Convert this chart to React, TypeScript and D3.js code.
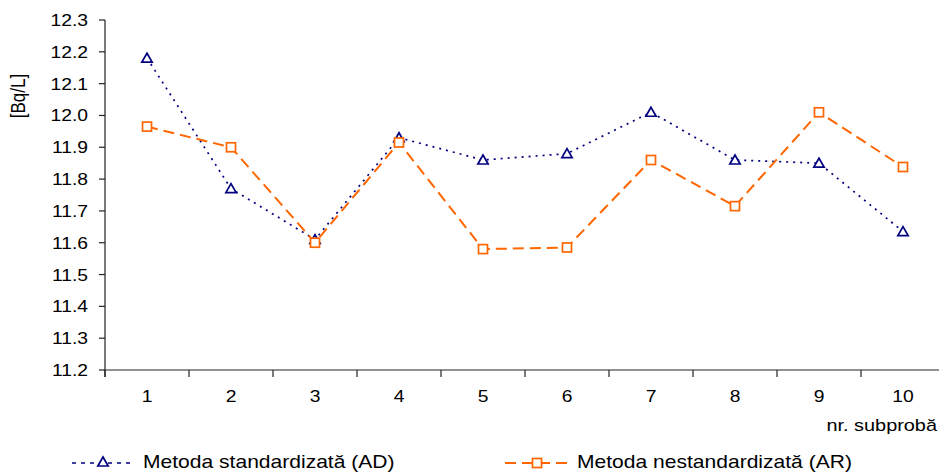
import React from "react";
import * as d3 from "d3";

// Sample numbers along the x axis
const categories: string[] = ["1", "2", "3", "4", "5", "6", "7", "8", "9", "10"];
// Standardised method (AD), Bq/L
const valuesAD: number[] = [12.18, 11.77, 11.61, 11.93, 11.86, 11.88, 12.01, 11.86, 11.85, 11.635];
// Non-standardised method (AR), Bq/L
const valuesAR: number[] = [11.965, 11.9, 11.6, 11.915, 11.58, 11.585, 11.86, 11.715, 12.01, 11.838];
// Value axis ticks
const yTicks: number[] = [11.2, 11.3, 11.4, 11.5, 11.6, 11.7, 11.8, 11.9, 12.0, 12.1, 12.2, 12.3];

const seriesNames: string[] = ["Metoda standardizată (AD)", "Metoda nestandardizată (AR)"];
const yTitle = "[Bq/L]";
const xTitle = "nr. subprobă";

const W = 939;
const H = 473;
const left = 105;
const right = 945;
const top = 20;
const bottom = 370;

const NAVY = "#000080";
const ORANGE = "#FF6600";
const FONT = "'Liberation Sans', Arial, sans-serif";
const SX = 1.17; // horizontal stretch of the text glyphs

const x = d3.scaleBand<string>().domain(categories).range([left, right]);
const y = d3.scaleLinear().domain([11.2, 12.3]).range([bottom, top]);

const line = d3
  .line<number>()
  .x((_, i) => (x(categories[i]) as number) + x.bandwidth() / 2)
  .y((v) => y(v));

const triPath = d3.symbol().type(d3.symbolTriangle).size(46)();

function Triangle({ cx, cy }: { cx: number; cy: number }) {
  return (
    <path
      d={triPath as string}
      transform={`translate(${cx},${cy + 1})`}
      fill="#fff"
      stroke={NAVY}
      strokeWidth={1.7}
    />
  );
}

function Square({ cx, cy }: { cx: number; cy: number }) {
  return (
    <rect x={cx - 4.5} y={cy - 4.5} width={9} height={9} fill="#fff" stroke={ORANGE} strokeWidth={1.7} />
  );
}

function Label(props: {
  x: number;
  y: number;
  size: number;
  anchor?: string;
  rotate?: number;
  children: React.ReactNode;
}) {
  const { x: tx, y: ty, size, anchor = "start", rotate = 0, children } = props;
  return (
    <text
      transform={`translate(${tx},${ty}) scale(${SX},1) rotate(${rotate})`}
      fontFamily={FONT}
      fontSize={size}
      textAnchor={anchor}
      fill="#000"
    >
      {children}
    </text>
  );
}

export default function App() {
  const cx = (i: number) => (x(categories[i]) as number) + x.bandwidth() / 2;
  const boundaries = d3.range(categories.length + 1).map((k) => left + k * x.step());

  return (
    <svg
      width={W}
      height={H}
      viewBox={`0 0 ${W} ${H}`}
      style={{ position: "absolute", left: 0, top: 0, background: "#fff" }}
    >
      {/* value axis */}
      <line x1={left} x2={left} y1={top} y2={bottom + 7} stroke="#222" strokeWidth={1.2} />
      {yTicks.map((t) => (
        <g key={t}>
          <line x1={left - 6} x2={left} y1={y(t)} y2={y(t)} stroke="#222" strokeWidth={1.2} />
          <Label x={88} y={y(t) + 6} size={16.5} anchor="end">
            {t.toFixed(1)}
          </Label>
        </g>
      ))}
      <Label x={25} y={96} size={17} anchor="middle" rotate={-90}>
        {yTitle}
      </Label>

      {/* category axis */}
      <line x1={left} x2={right} y1={bottom} y2={bottom} stroke="#222" strokeWidth={1.2} />
      {boundaries.map((b) => (
        <line key={b} x1={b} x2={b} y1={bottom} y2={bottom + 7} stroke="#222" strokeWidth={1.2} />
      ))}
      {categories.map((c, i) => (
        <Label key={c} x={cx(i)} y={402} size={16.5} anchor="middle">
          {c}
        </Label>
      ))}
      <Label x={937} y={431} size={17} anchor="end">
        {xTitle}
      </Label>

      {/* series AD */}
      <path
        d={line(valuesAD) as string}
        fill="none"
        stroke={NAVY}
        strokeWidth={1.7}
        strokeDasharray="2,5"
      />
      {valuesAD.map((v, i) => (
        <Triangle key={i} cx={cx(i)} cy={y(v)} />
      ))}

      {/* series AR */}
      <path
        d={line(valuesAR) as string}
        fill="none"
        stroke={ORANGE}
        strokeWidth={2}
        strokeDasharray="11,6"
      />
      {valuesAR.map((v, i) => (
        <Square key={i} cx={cx(i)} cy={y(v)} />
      ))}

      {/* legend */}
      <line x1={72} x2={135} y1={463} y2={463} stroke={NAVY} strokeWidth={1.7} strokeDasharray="4,5" />
      <Triangle cx={103} cy={462} />
      <Label x={143} y={468} size={18}>
        {seriesNames[0]}
      </Label>

      <line x1={505} x2={572} y1={463} y2={463} stroke={ORANGE} strokeWidth={2} strokeDasharray="11,6" />
      <Square cx={537} cy={463} />
      <Label x={577} y={468} size={18}>
        {seriesNames[1]}
      </Label>
    </svg>
  );
}
